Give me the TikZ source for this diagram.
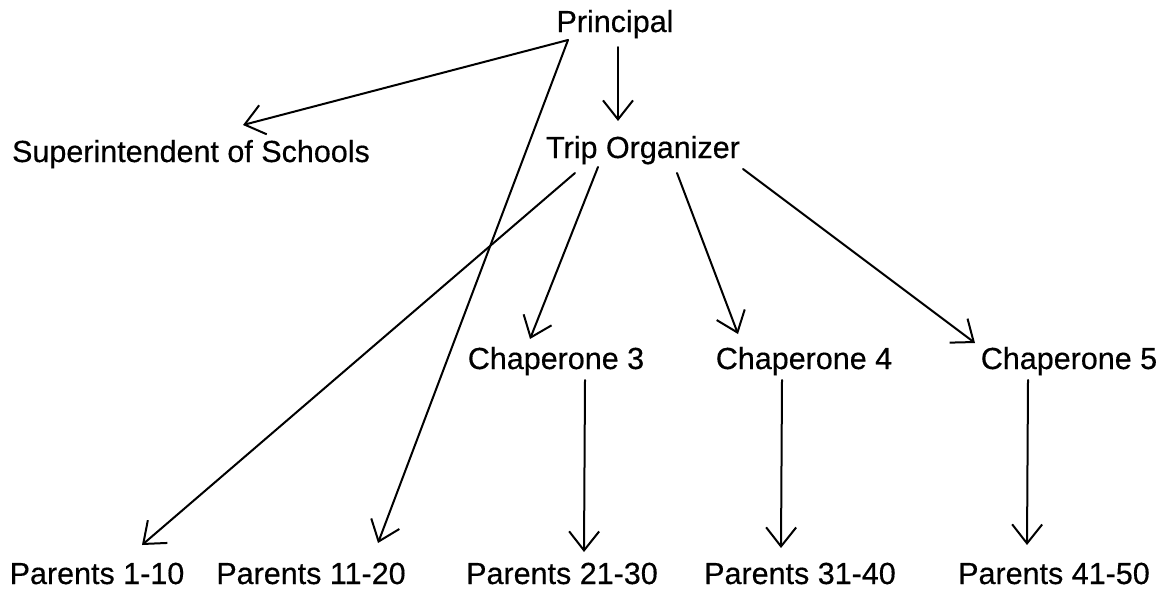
\documentclass[tikz,border=0pt]{standalone}
\usepackage{fontspec}
\setmainfont{Liberation Sans}
\newfontfamily\lblfont{Liberation Sans}[FakeBold=0.4]
\usetikzlibrary{arrows.meta,calc}
\tikzset{
  lbl/.style={anchor=base, inner sep=0pt, font=\lblfont\fontsize{30.5}{36}\selectfont},
  arr/.style={line width=2pt, line cap=round, line join=round,
    -{Straight Barb[length=19pt,width=30pt,line width=2pt]}}
}
\begin{document}
\begin{tikzpicture}[x=1pt,y=-1pt]
\useasboundingbox[fill=white] (0,0) rectangle (1166,590);
% nodes
\node[lbl] (prin) at (615,32) {Principal};
\node[lbl] (sup) at (191,162) {Superintendent of Schools};
\node[lbl] (trip) at (643,158) {Trip Organizer};
\node[lbl] (ch3) at (556,369) {Chaperone 3};
\node[lbl] (ch4) at (804,369) {Chaperone 4};
\node[lbl] (ch5) at (1069,369) {Chaperone 5};
\node[lbl] (p1) at (97,584) {Parents 1-10};
\node[lbl] (p2) at (311,584) {Parents 11-20};
\node[lbl] (p3) at (562,584) {Parents 21-30};
\node[lbl] (p4) at (800,584) {Parents 31-40};
\node[lbl] (p5) at (1054,584) {Parents 41-50};
% connectors
\draw[arr] ($(prin.base)+(-47,8)$) -- ($(sup.base)+(52,-37)$);
\draw[arr] ($(prin.base)+(-47,8)$) -- ($(p2.base)+(67,-41)$);
\draw[arr] ($(prin.base)+(3,15)$) -- ($(trip.base)+(-25,-37)$);
\draw[arr] ($(trip.base)+(-68,15)$) -- ($(p1.base)+(45,-39)$);
\draw[arr] ($(trip.base)+(-45,9)$) -- ($(ch3.base)+(-26,-30)$);
\draw[arr] ($(trip.base)+(34,15)$) -- ($(ch4.base)+(-66,-35)$);
\draw[arr] ($(trip.base)+(100,11)$) -- ($(ch5.base)+(-94,-26)$);
\draw[arr] ($(ch3.base)+(29,11)$) -- ($(p3.base)+(22,-32)$);
\draw[arr] ($(ch4.base)+(-22,11)$) -- ($(p4.base)+(-19,-36)$);
\draw[arr] ($(ch5.base)+(-41,11)$) -- ($(p5.base)+(-27,-39)$);
\end{tikzpicture}
\end{document}
